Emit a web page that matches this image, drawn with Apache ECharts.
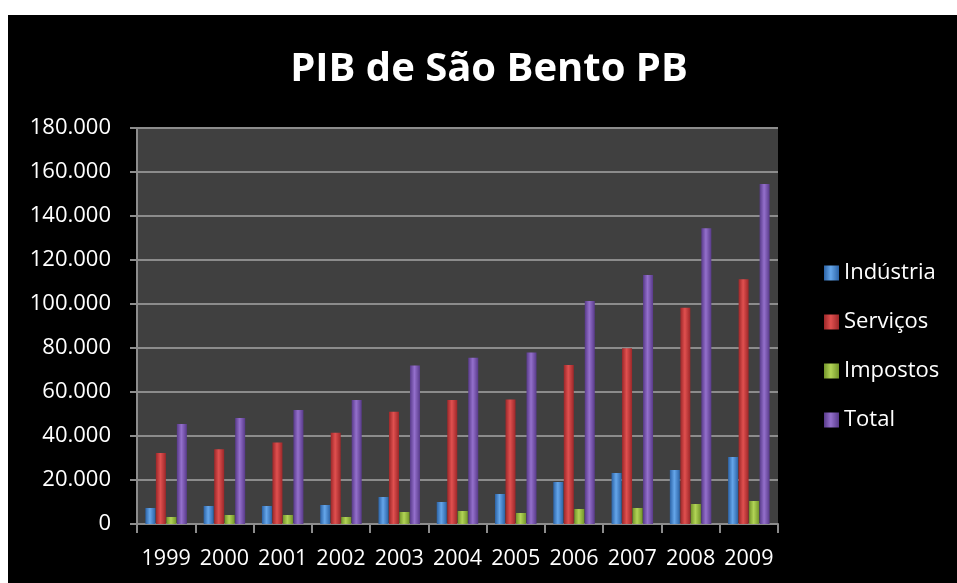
<!DOCTYPE html>
<html>
<head>
<meta charset="utf-8">
<script src="https://cdn.jsdelivr.net/npm/echarts@6/dist/echarts.min.js"></script>
<style>
  html, body { margin: 0; padding: 0; background: #ffffff; }
  #main-chart { position: absolute; left: 8px; top: 15px; width: 949px; height: 568px; background: #000000; }
</style>
</head>
<body>
<div id="main-chart"></div>
<script>
// 年（カテゴリ）
const anos = ['1999', '2000', '2001', '2002', '2003', '2004', '2005', '2006', '2007', '2008', '2009'];

// 各系列の値（グラフから読み取った推定値）
const industria = [7300, 8200, 8200, 8600, 12300, 10000, 13600, 19100, 23200, 24500, 30500];
const servicos  = [32300, 34000, 37000, 41500, 51000, 56400, 56600, 72300, 79900, 98300, 111200];
const impostos  = [3200, 4100, 4100, 3200, 5400, 5900, 5000, 6800, 7300, 9100, 10500];
const total     = [45500, 48200, 51800, 56400, 72000, 75600, 77900, 101400, 113200, 134400, 154500];

const nomes = ['Indústria', 'Serviços', 'Impostos', 'Total'];
const cores = [
    ['#2c63a6', '#65a6ea', '#2c63a6'],
    ['#9c2729', '#e0504f', '#9c2729'],
    ['#73952a', '#b2d456', '#73952a'],
    ['#583a8a', '#9470cc', '#583a8a']
];

const fonte = '"Open Sans", sans-serif';

function gradiente(c) {
    return new echarts.graphic.LinearGradient(0, 0, 1, 0, [
        { offset: 0, color: c[0] },
        { offset: 0.45, color: c[1] },
        { offset: 1, color: c[2] }
    ]);
}

// 千の区切りをドットで表示
function formatar(v) {
    return String(v).replace(/\B(?=(\d{3})+(?!\d))/g, '.');
}

const chartContainer = document.getElementById('main-chart');
const myChart = echarts.init(chartContainer);

const dados = [industria, servicos, impostos, total];

const option = {
    backgroundColor: '#000000',
    title: {
        text: 'PIB de São Bento PB',
        left: 484 - 8,
        top: 30,
        textAlign: 'center',
        textStyle: { color: '#ffffff', fontFamily: fonte, fontWeight: 'bold', fontSize: 40 }
    },
    legend: {
        orient: 'vertical',
        left: 811,
        top: 242,
        itemWidth: 15,
        itemHeight: 15,
        itemGap: 27,
        icon: 'rect',
        data: nomes,
        textStyle: { color: '#ffffff', fontFamily: fonte, fontSize: 22, lineHeight: 22 }
    },
    grid: {
        left: 129,
        right: 179,
        top: 113,
        bottom: 59,
        show: true,
        backgroundColor: '#404040',
        borderWidth: 0
    },
    xAxis: {
        type: 'category',
        data: anos,
        axisLine: { lineStyle: { color: '#8c8c8c', width: 2 } },
        axisTick: { show: true, length: 9, lineStyle: { color: '#8c8c8c', width: 2 } },
        axisLabel: { color: '#ffffff', fontFamily: fonte, fontSize: 21.5, margin: 24, interval: 0 }
    },
    yAxis: {
        type: 'value',
        min: 0,
        max: 180000,
        interval: 20000,
        axisLine: { show: true, lineStyle: { color: '#8c8c8c', width: 2 } },
        axisTick: { show: true, length: 7, lineStyle: { color: '#8c8c8c', width: 2 } },
        splitLine: { lineStyle: { color: '#8c8c8c', width: 2 } },
        axisLabel: { color: '#ffffff', fontFamily: fonte, fontSize: 22, margin: 26, formatter: formatar }
    },
    series: nomes.map((n, i) => ({
        name: n,
        type: 'bar',
        data: dados[i],
        barWidth: 10,
        barGap: '5%',
        itemStyle: { color: gradiente(cores[i]) }
    }))
};

myChart.setOption(option);
</script>
</body>
</html>
